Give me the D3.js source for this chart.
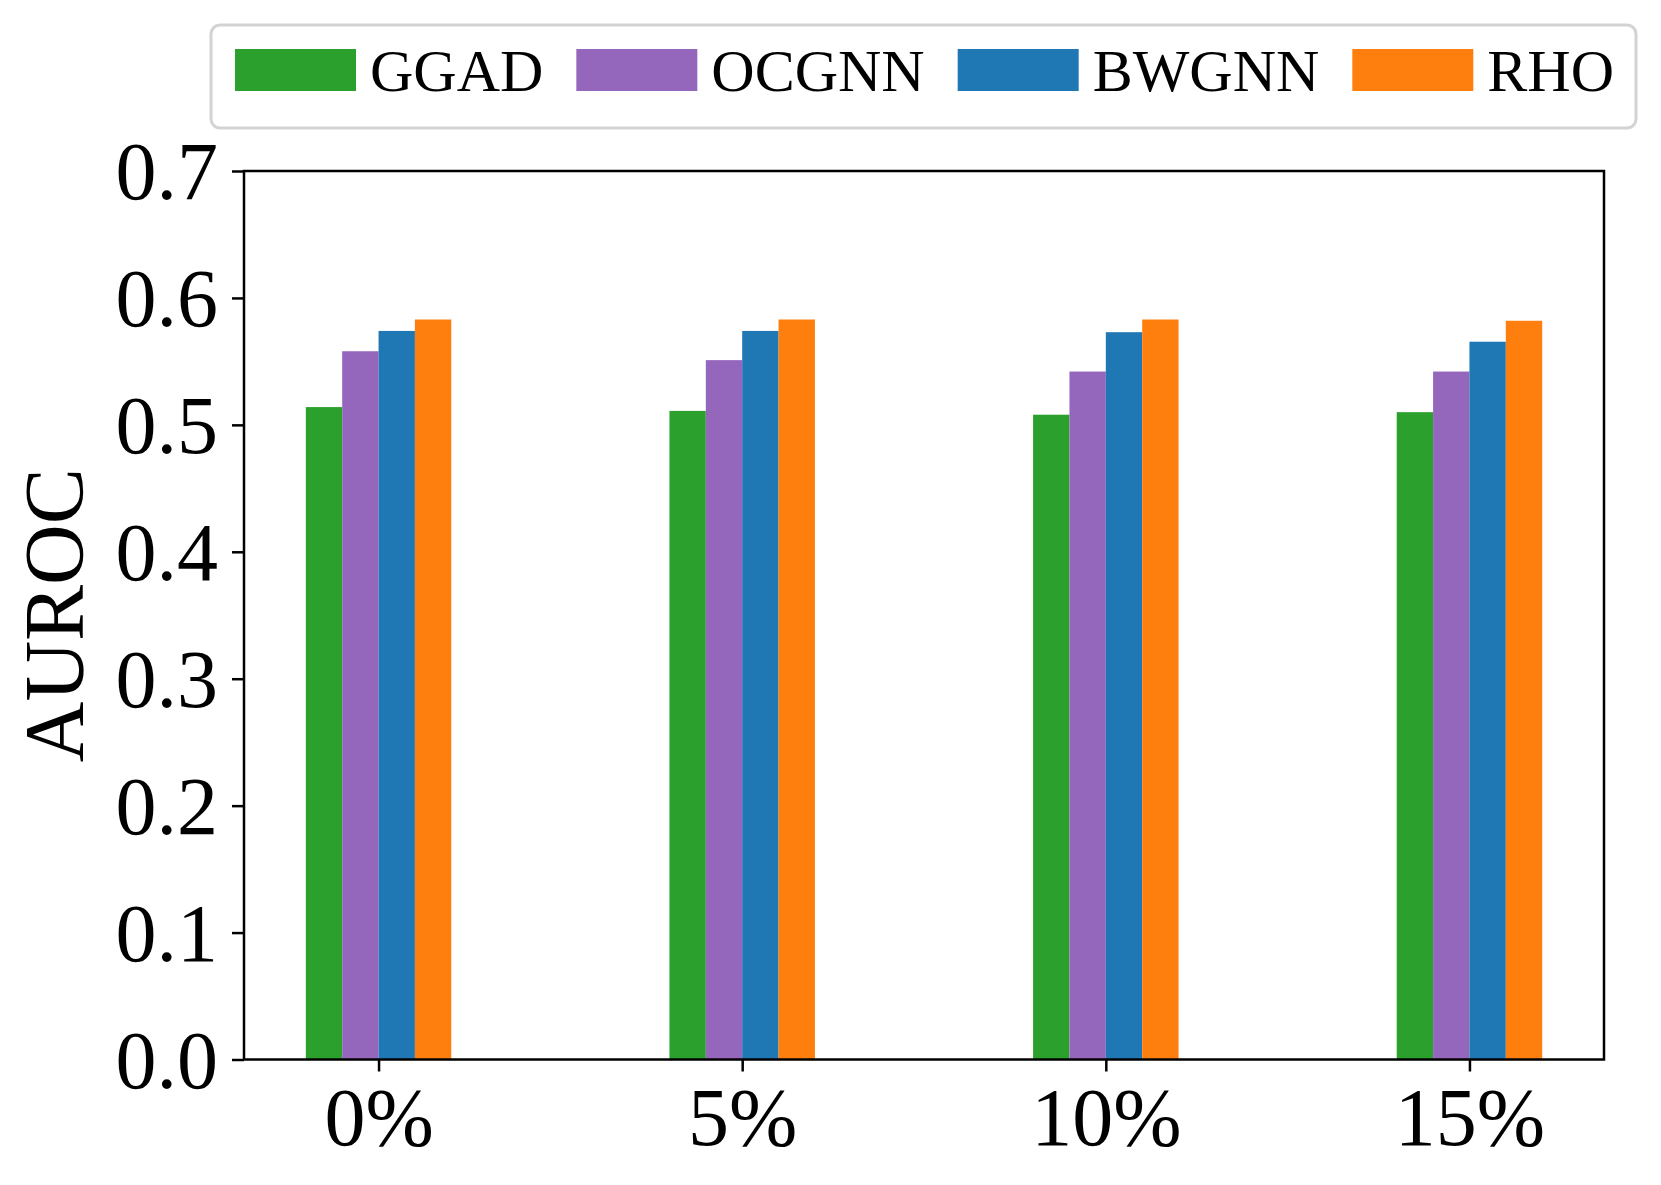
<!DOCTYPE html>
<html><head><meta charset="utf-8">
<script src="https://cdn.jsdelivr.net/npm/d3@7"></script>
<style>body{margin:0;background:#fff}svg{display:block}text{font-family:"Liberation Serif","Times New Roman",serif}</style>
</head><body>
<script>
const categories = ["0%","5%","10%","15%"];
const seriesNames = ["GGAD","OCGNN","BWGNN","RHO"];
const GGAD  = [0.514,0.511,0.508,0.510];
const OCGNN = [0.558,0.551,0.542,0.542];
const BWGNN = [0.574,0.574,0.573,0.5655];
const RHO   = [0.583,0.583,0.583,0.582];
const colors = ["#2ca02c","#9467bd","#1f77b4","#ff7f0e"];
const yTicks = [0,0.1,0.2,0.3,0.4,0.5,0.6,0.7];

const W=1661,H=1185;
const m={left:244,right:W-1604,top:171,bottom:H-1059.5};
const svg=d3.select("body").append("svg").attr("width",W).attr("height",H);
const series=[GGAD,OCGNN,BWGNN,RHO];
const bw=0.1;
const x=d3.scaleLinear().domain([-0.2-0.17,3.2+0.17]).range([m.left,W-m.right]);
const y=d3.scaleLinear().domain([0,0.7]).range([H-m.bottom,m.top]);

const g=svg.append("g");
series.forEach((s,si)=>{
  g.selectAll(null).data(s).enter().append("rect")
   .attr("x",(d,i)=>x(i+(si-2)*bw))
   .attr("width",x(bw)-x(0))
   .attr("y",d=>y(d))
   .attr("height",d=>y(0)-y(d))
   .attr("fill",colors[si]);
});

// axes
const ax=d3.axisLeft(y).tickValues(yTicks).tickFormat(d3.format(".1f")).tickSize(12).tickPadding(14);
const ya=svg.append("g").attr("transform",`translate(${m.left},0)`).call(ax);
const xa=svg.append("g").attr("transform",`translate(0,${H-m.bottom})`)
  .call(d3.axisBottom(x).tickValues([0,1,2,3]).tickFormat(i=>categories[i]).tickSize(12).tickPadding(10));
[ya,xa].forEach(a=>{a.select(".domain").remove();a.selectAll(".tick line").attr("stroke","#000").attr("stroke-width",2.5);
  a.selectAll(".tick text").attr("font-size",82).attr("fill","#000").style("font-family",'"Liberation Serif",serif');});
ya.selectAll(".tick text").attr("dy","0.34em");
xa.selectAll(".tick text").attr("dy","0.78em");
svg.append("rect").attr("x",m.left).attr("y",m.top).attr("width",W-m.right-m.left).attr("height",H-m.bottom-m.top)
  .attr("fill","none").attr("stroke","#000").attr("stroke-width",2.5);

svg.append("text").attr("transform",`translate(83,${(m.top+H-m.bottom)/2}) rotate(-90)`)
  .attr("text-anchor","middle").attr("font-size",84).text("AUROC");

// legend
const lg=svg.append("g");
lg.append("rect").attr("x",211).attr("y",25).attr("width",1425).attr("height",103).attr("rx",9)
  .attr("fill","#fff").attr("stroke","#d3d3d3").attr("stroke-width",3);
let cx=235;
seriesNames.forEach((n,i)=>{
  lg.append("rect").attr("x",cx).attr("y",49).attr("width",121).attr("height",42).attr("fill",colors[i]);
  const t=lg.append("text").attr("x",cx+135).attr("y",91).attr("font-size",60).text(n);
  cx=cx+135+t.node().getComputedTextLength()+33;
});
</script>
</body></html>
